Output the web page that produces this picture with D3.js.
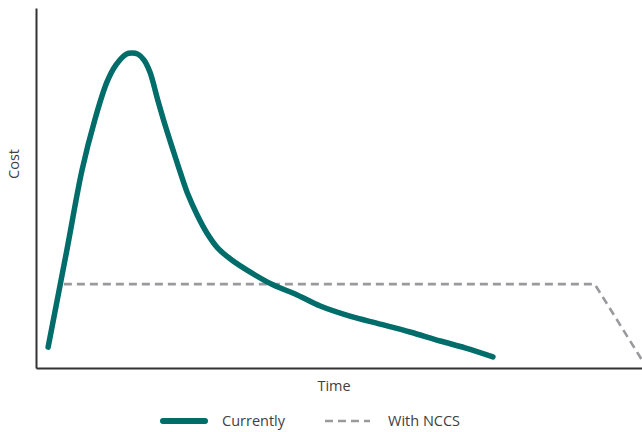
<!DOCTYPE html>
<html><head><meta charset="utf-8">
<script src="https://cdn.jsdelivr.net/npm/d3@7"></script>
<style>body{margin:0;background:#fff}svg{display:block}text{font-family:"Open Sans",sans-serif;fill:#404040}</style>
</head><body>
<script>
// Data (time 0..100, cost 0..100)
const currentlyTime = [2.0,5.1,7.6,9.7,11.7,13.2,14.9,15.8,16.8,17.8,18.8,20.1,21.3,22.6,23.8,25.1,26.6,28.2,30.0,32.3,35.3,39.1,43.1,46.9,51.8,56.8,61.7,66.7,70.8,75.4];
const currentlyCost = [5.8,32.8,55.0,68.9,79.4,84.2,87.2,87.5,87.2,85.6,82.2,74.4,67.5,60.6,54.4,48.1,42.5,37.5,33.3,30.0,26.7,23.1,20.3,17.2,14.4,12.2,10.0,7.5,5.6,3.1];
const nccsTime = [4.6,92.2,100];
const nccsCost = [23.3,23.3,2.2];
const seriesNames = ["Currently","With NCCS"];
const axisLabels = {x:"Time", y:"Cost"};

const W=642,H=432;
const svg=d3.select("body").append("svg").attr("width",W).attr("height",H);
const x=d3.scaleLinear().domain([0,100]).range([36,642]);
const y=d3.scaleLinear().domain([0,100]).range([368,8]);

const teal="#006d6b", gray="#9a9a9e";

// axes
svg.append("g").attr("transform","translate(36,0)")
  .call(d3.axisLeft(y).tickValues([]).tickSizeOuter(0))
  .call(g=>g.select(".domain").attr("stroke","#333").attr("stroke-width",2));
svg.append("g").attr("transform","translate(0,368)")
  .call(d3.axisBottom(x).tickValues([]).tickSizeOuter(0))
  .call(g=>g.select(".domain").attr("stroke","#333").attr("stroke-width",2));

// lines
const line=d3.line().x(d=>x(d[0])).y(d=>y(d[1])).curve(d3.curveCatmullRom.alpha(0.5));
svg.append("path").datum(nccsTime.map((t,i)=>[t,nccsCost[i]]))
  .attr("d",d3.line().x(d=>x(d[0])).y(d=>y(d[1])))
  .attr("fill","none").attr("stroke",gray).attr("stroke-width",2.6).attr("stroke-dasharray","8,5");
svg.append("path").datum(currentlyTime.map((t,i)=>[t,currentlyCost[i]]))
  .attr("d",line).attr("fill","none").attr("stroke",teal).attr("stroke-width",5.5)
  .attr("stroke-linecap","round").attr("stroke-linejoin","round");

// axis labels
svg.append("text").attr("x",334).attr("y",391).attr("text-anchor","middle").attr("font-size",14.5).text(axisLabels.x);
svg.append("text").attr("transform","translate(19,164) rotate(-90)").attr("text-anchor","middle").attr("font-size",14.5).text(axisLabels.y);

// legend
svg.append("line").attr("x1",163).attr("x2",205).attr("y1",421).attr("y2",421)
  .attr("stroke",teal).attr("stroke-width",6).attr("stroke-linecap","round");
svg.append("text").attr("x",222).attr("y",426).attr("font-size",14.5).text(seriesNames[0]);
svg.append("line").attr("x1",325).attr("x2",370).attr("y1",421).attr("y2",421)
  .attr("stroke",gray).attr("stroke-width",2.6).attr("stroke-dasharray","8,5");
svg.append("text").attr("x",388).attr("y",426).attr("font-size",14.5).text(seriesNames[1]);
</script>
</body></html>
